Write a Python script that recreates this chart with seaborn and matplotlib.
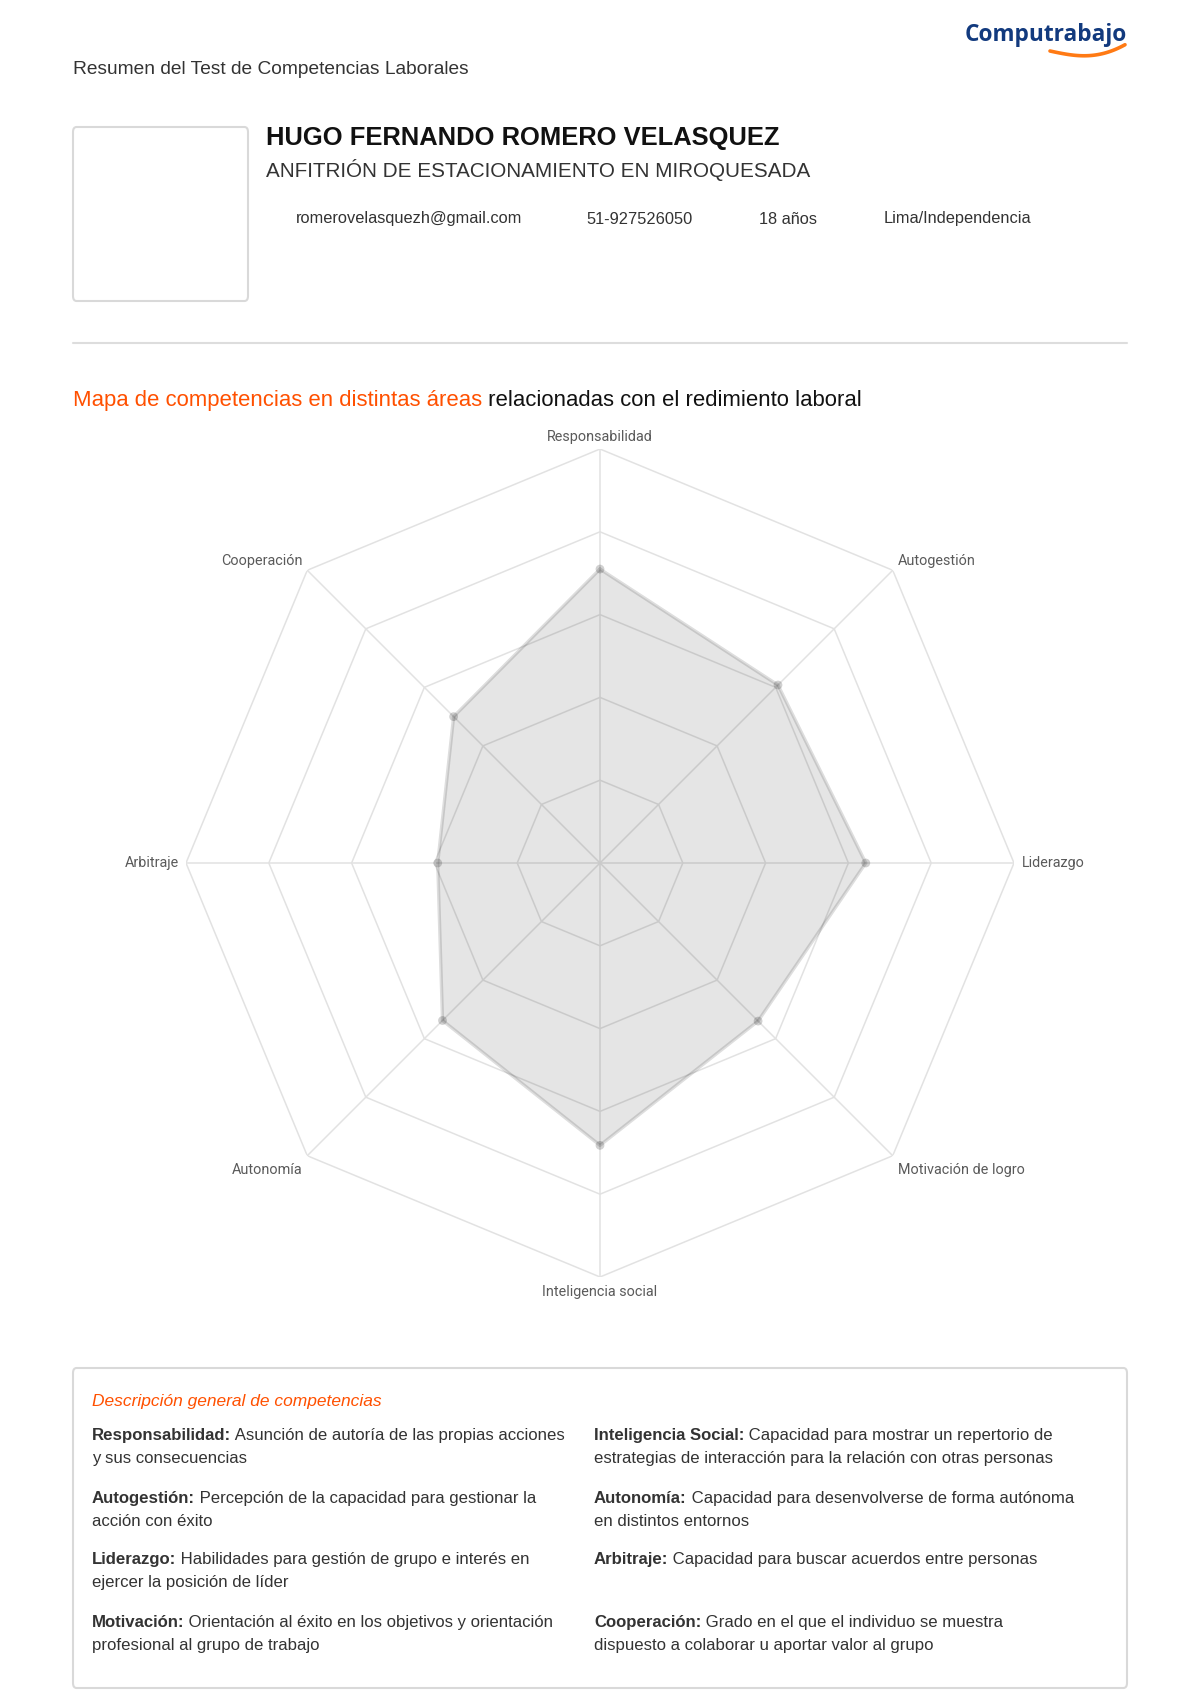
import numpy as np
import matplotlib
matplotlib.use("Agg")
import matplotlib.pyplot as plt
from matplotlib.patches import FancyBboxPatch
import seaborn as sns

# ---------------- data ----------------
competencias = ["Responsabilidad", "Autogestión", "Liderazgo", "Motivación de logro",
                "Inteligencia social", "Autonomía", "Arbitraje", "Cooperación"]
puntajes = [3.55, 3.04, 3.21, 2.70, 3.41, 2.69, 1.96, 2.50]
niveles = [1, 2, 3, 4, 5]

titulo_pagina = "Resumen del Test de Competencias Laborales"
nombre = "HUGO FERNANDO ROMERO VELASQUEZ"
cargo = "ANFITRIÓN DE ESTACIONAMIENTO EN MIROQUESADA"
contacto = ["romerovelasquezh@gmail.com", "51-927526050", "18 años", "Lima/Independencia"]
seccion_naranja = "Mapa de competencias en distintas áreas"
seccion_negra = " relacionadas con el redimiento laboral"
desc_titulo = "Descripción general de competencias"
desc_izq = [("Responsabilidad:", " Asunción de autoría de las propias acciones", "y sus consecuencias"),
            ("Autogestión:", " Percepción de la capacidad para gestionar la", "acción con éxito"),
            ("Liderazgo:", " Habilidades para gestión de grupo e interés en", "ejercer la posición de líder"),
            ("Motivación:", " Orientación al éxito en los objetivos y orientación", "profesional al grupo de trabajo")]
desc_der = [("Inteligencia Social:", " Capacidad para mostrar un repertorio de", "estrategias de interacción para la relación con otras personas"),
            ("Autonomía:", " Capacidad para desenvolverse de forma autónoma", "en distintos entornos"),
            ("Arbitraje:", " Capacidad para buscar acuerdos entre personas", ""),
            ("Cooperación:", " Grado en el que el individuo se muestra", "dispuesto a colaborar u aportar valor al grupo")]

# ---------------- style ----------------
sns.set_theme(style="white")
plt.rcParams['font.family'] = ['Liberation Sans', 'DejaVu Sans']

W, H = 1200, 1698
fig = plt.figure(figsize=(W / 100, H / 100), dpi=100)
fig.patch.set_facecolor("white")

def fx(x):
    return x / W

def fy(y):
    return 1 - y / H

ORANGE = "#ff5000"
TXT = "#333333"

# ---------------- header ----------------
fig.text(fx(73), fy(69), titulo_pagina, fontsize=13.8, color=TXT, va="center", ha="left")
fig.text(fx(1127), fy(35), "Computrabajo", fontsize=16.3, color="#123a7e", fontweight="bold",
         family=["Open Sans", "DejaVu Sans"], va="center", ha="right")
sw = np.linspace(0, 1, 40)
fig.add_artist(plt.Line2D(fx(1050 + 75 * sw), fy(51 + 6 * np.sin(np.pi * sw * 0.85) - 9 * sw ** 3),
                          color="#ff7a14", lw=2.6, solid_capstyle="round"))

# photo box
fig.add_artist(FancyBboxPatch((fx(73), fy(301)), fx(248) - fx(73), fy(127) - fy(301),
                              boxstyle="round,pad=0,rounding_size=0.003", transform=fig.transFigure,
                              facecolor="white", edgecolor="#d9d9d9", lw=1.5))

fig.text(fx(266), fy(138), nombre, fontsize=18.4, fontweight="bold", color="#111111", va="center", ha="left")
fig.text(fx(266), fy(170), cargo, fontsize=14.85, color=TXT, va="center", ha="left")
for xx, t in zip([296, 586, 759, 884], contacto):
    fig.text(fx(xx), fy(219), t, fontsize=11.8, color=TXT, va="center", ha="left")

fig.add_artist(plt.Line2D([fx(73), fx(1127)], [fy(343), fy(343)], color="#dddddd", lw=1.5))

# section title
renderer = fig.canvas.get_renderer()
t1 = fig.text(fx(73), fy(406), seccion_naranja, fontsize=15.9, color=ORANGE, va="baseline", ha="left")
bb = t1.get_window_extent(renderer)
fig.text(bb.x1 / W, fy(406), seccion_negra, fontsize=15.9, color="#111111", va="baseline", ha="left")

# ---------------- radar ----------------
cx, cy, R = 600, 863, 414
ax = fig.add_axes([fx(cx - R), fy(cy + R), 2 * R / W, 2 * R / H], projection="polar")
ax.set_theta_zero_location("N")
ax.set_theta_direction(-1)
ax.set_ylim(0, 5)
ax.set_xticks([])
ax.set_yticks([])
ax.grid(False)
ax.spines["polar"].set_visible(False)
ax.patch.set_alpha(0)

n = len(competencias)
ang = np.arange(n) * 2 * np.pi / n
ang_c = np.append(ang, ang[0])

for lv in niveles:
    ax.plot(ang_c, [lv] * (n + 1), color="#e2e2e2", lw=1.1, zorder=1)
for a in ang:
    ax.plot([a, a], [0, niveles[-1]], color="#e2e2e2", lw=1.1, zorder=1)

vals_c = np.append(puntajes, puntajes[0])
ax.fill(ang_c, vals_c, color="black", alpha=0.1, lw=0, zorder=2)
sns.lineplot(x=ang_c, y=vals_c, sort=False, estimator=None, ax=ax, color="black", alpha=0.13,
             lw=2.4, zorder=3)
sns.scatterplot(x=ang, y=puntajes, ax=ax, color="black", alpha=0.18, s=40, edgecolor="none", zorder=4)
ax.set_xlabel("")
ax.set_ylabel("")
ax.set_ylim(0, 5)

px = 0.72
lab_pos = [((0, 5), "center", "bottom"), ((5, 2), "left", "bottom"), ((8, 0), "left", "center"),
           ((5, -7), "left", "top"), ((0, -8), "center", "top"), ((-5, -7), "right", "top"),
           ((-7, 0), "right", "center"), ((-5, 2), "right", "bottom")]
for a, lab, (off, ha, va) in zip(ang, competencias, lab_pos):
    ax.annotate(lab, xy=(a, niveles[-1]), xytext=(off[0] * px, off[1] * px), textcoords="offset points",
                ha=ha, va=va, fontsize=10.4, color="#5a5a5a", family=["Roboto", "DejaVu Sans"],
                annotation_clip=False)

# ---------------- description box ----------------
fig.add_artist(FancyBboxPatch((fx(73), fy(1688)), fx(1127) - fx(73), fy(1368) - fy(1688),
                              boxstyle="round,pad=0,rounding_size=0.003", transform=fig.transFigure,
                              facecolor="white", edgecolor="#d9d9d9", lw=1.5))
fig.text(fx(92), fy(1406), desc_titulo, fontsize=12.5, color=ORANGE, style="italic", va="baseline", ha="left")

rows_y = [1440, 1503, 1564, 1627]
FS = 12.05
for colx, items in [(92, desc_izq), (594, desc_der)]:
    for yy, (b, r1, r2) in zip(rows_y, items):
        tb = fig.text(fx(colx), fy(yy), b, fontsize=FS, fontweight="bold", color=TXT, va="baseline", ha="left")
        e = tb.get_window_extent(renderer)
        fig.text(e.x1 / W, fy(yy), r1, fontsize=FS, color=TXT, va="baseline", ha="left")
        if r2:
            fig.text(fx(colx), fy(yy + 23), r2, fontsize=FS, color=TXT, va="baseline", ha="left")

fig.savefig("out.png", dpi=100, facecolor="white")
